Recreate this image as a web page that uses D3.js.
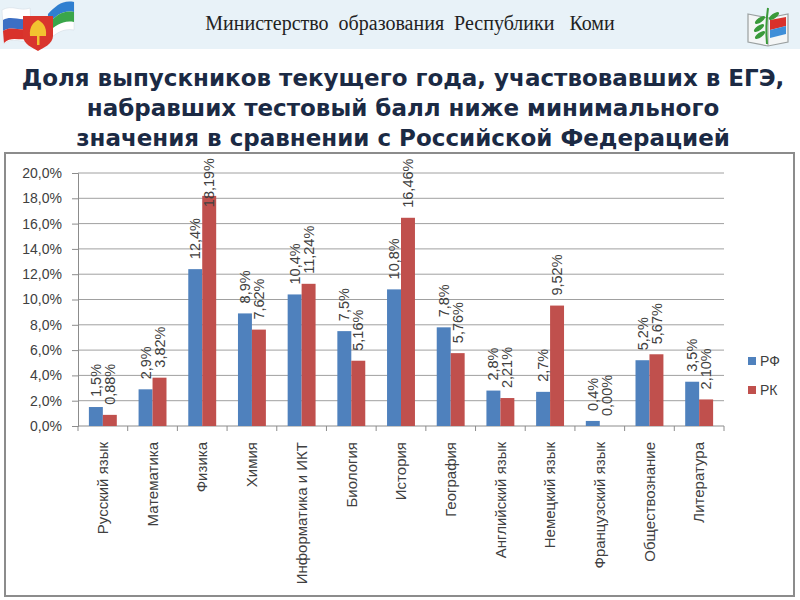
<!DOCTYPE html>
<html>
<head>
<meta charset="utf-8">
<script src="https://cdn.jsdelivr.net/npm/d3@7"></script>
<style>
body { margin: 0; background: #fff; }
svg { display: block; }
</style>
</head>
<body>
<script>
// data
var subjects = ["Русский язык", "Математика", "Физика", "Химия", "Информатика и ИКТ",
	"Биология", "История", "География", "Английский язык", "Немецкий язык",
	"Французский язык", "Обществознание", "Литература"];
var rfValues = [1.5, 2.9, 12.4, 8.9, 10.4, 7.5, 10.8, 7.8, 2.8, 2.7, 0.4, 5.2, 3.5];
var rkValues = [0.88, 3.82, 18.19, 7.62, 11.24, 5.16, 16.46, 5.76, 2.21, 9.52, 0.00, 5.67, 2.10];
var seriesNames = ["РФ", "РК"];
var seriesColors = ["#4f81bd", "#c0504d"];
var yTicks = [0, 2, 4, 6, 8, 10, 12, 14, 16, 18, 20];
var headerText = "Министерство  образования  Республики   Коми";
var titleLines = ["Доля выпускников текущего года, участвовавших в ЕГЭ,",
	"набравших тестовый балл ниже минимального",
	"значения в сравнении с Российской Федерацией"];

var width = 800,
	height = 600;

var ru = d3.formatLocale({decimal: ",", thousands: " ", grouping: [3], currency: ["", ""]});
var fmt1 = ru.format(".1f"),
	fmt2 = ru.format(".2f");

var svg = d3.select("body").append("svg")
		.attr("width", width)
		.attr("height", height);

// header band
svg.append("rect")
		.attr("x", 0).attr("y", 0)
		.attr("width", width).attr("height", 49)
		.attr("fill", "#e8f2f8");

svg.append("text")
		.attr("x", 410).attr("y", 30)
		.attr("text-anchor", "middle")
		.attr("font-family", "'Liberation Serif', 'DejaVu Serif', serif")
		.attr("font-size", 20)
		.attr("fill", "#222")
		.style("white-space", "pre")
		.text(headerText);

// left emblem: ribbons + shield
var logo = svg.append("g");
logo.append("path").attr("d", "M2,10 C12,4 20,12 30,8 L32,40 C22,44 12,36 4,44 Z").attr("fill", "#fff").attr("stroke", "#d0d8e0").attr("stroke-width", 0.5);
logo.append("path").attr("d", "M3,20 C12,15 20,22 31,18 L31,28 C20,32 12,25 3,31 Z").attr("fill", "#3c6fc4");
logo.append("path").attr("d", "M3,31 C12,25 20,32 31,28 L32,38 C20,42 12,35 4,43 Z").attr("fill", "#d9312b");
logo.append("path").attr("d", "M48,14 C56,6 62,0 74,2 L74,30 C62,28 56,34 48,40 Z").attr("fill", "#fff").attr("stroke", "#d0d8e0").attr("stroke-width", 0.5);
logo.append("path").attr("d", "M48,14 C56,6 62,0 74,2 L74,12 C62,10 56,16 48,24 Z").attr("fill", "#2f7fd0");
logo.append("path").attr("d", "M48,24 C56,16 62,10 74,12 L74,22 C62,20 56,26 48,32 Z").attr("fill", "#3aa64a");
logo.append("path").attr("d", "M23,16 L53,16 L53,36 C53,44 43,48 38,51 C33,48 23,44 23,36 Z").attr("fill", "#d9352d");
logo.append("path").attr("d", "M30,36 C29,26 34,22 38,20 C42,22 47,26 46,36 Z").attr("fill", "#f2c230");
logo.append("rect").attr("x", 37).attr("y", 36).attr("width", 2.5).attr("height", 9).attr("fill", "#f2c230");

// right emblem: open book with sprout
var book = svg.append("g");
book.append("path").attr("d", "M748,14 L768,18 L788,14 L788,42 L768,46 L748,42 Z").attr("fill", "#f4f6f6").attr("stroke", "#9aa0a0").attr("stroke-width", 1.2);
book.append("path").attr("d", "M768,18 L768,46").attr("stroke", "#9aa0a0").attr("stroke-width", 1);
book.append("path").attr("d", "M770,20 L786,17 L786,26 L770,30 Z").attr("fill", "#d9312b");
book.append("path").attr("d", "M770,30 L786,26 L786,34 L770,38 Z").attr("fill", "#3f8fd8");
book.append("path").attr("d", "M767,44 C766,34 766,22 768,8").attr("stroke", "#3a9a3a").attr("stroke-width", 2).attr("fill", "none");
[[760, 20], [759, 28], [760, 35], [774, 16]].forEach(function(p){
	book.append("ellipse").attr("cx", p[0]).attr("cy", p[1]).attr("rx", 6).attr("ry", 2.3)
		.attr("transform", "rotate(-35," + p[0] + "," + p[1] + ")").attr("fill", "#3a9a3a");
});

// title
svg.append("g").selectAll("text")
		.data(titleLines)
	.enter().append("text")
		.attr("x", 403)
		.attr("y", function(d, i){ return 86 + i * 30; })
		.attr("text-anchor", "middle")
		.attr("font-family", "'DejaVu Sans', Verdana, sans-serif")
		.attr("font-weight", "bold")
		.attr("font-size", 23)
		.attr("fill", "#1b2a44")
		.text(function(d){ return d; });

// chart frame
svg.append("rect")
		.attr("x", 5).attr("y", 153)
		.attr("width", 789).attr("height", 443)
		.attr("fill", "#fff")
		.attr("stroke", "#8c8c8c")
		.attr("stroke-width", 2);

var margin = {left: 78, right: 724, top: 173, bottom: 426};
var font = "'Liberation Sans', Arial, sans-serif";
var textColor = "#404040";

var x0 = d3.scaleBand()
		.domain(subjects)
		.range([margin.left, margin.right]);
var x1 = d3.scaleBand()
		.domain(seriesNames)
		.range([0, x0.bandwidth()])
		.paddingOuter(0.78);
var y = d3.scaleLinear()
		.domain([0, 20])
		.range([margin.bottom, margin.top]);

// grid
svg.append("g").selectAll("line")
		.data(yTicks.slice(1))
	.enter().append("line")
		.attr("x1", margin.left).attr("x2", margin.right)
		.attr("y1", function(d){ return y(d); })
		.attr("y2", function(d){ return y(d); })
		.attr("stroke", "#a0a0a0")
		.attr("stroke-width", 1);

// y axis
var yAxis = svg.append("g")
		.attr("transform", "translate(" + margin.left + ",0)")
		.call(d3.axisLeft(y).tickValues(yTicks).tickSize(6).tickPadding(10)
			.tickFormat(function(d){ return fmt1(d) + "%"; }));
yAxis.select(".domain").attr("stroke", "#8c8c8c");
yAxis.selectAll(".tick line").attr("stroke", "#8c8c8c");
yAxis.selectAll("text")
		.attr("font-family", font)
		.attr("font-size", 14)
		.attr("fill", textColor);

// x axis line and ticks at category boundaries
svg.append("line")
		.attr("x1", margin.left).attr("x2", margin.right)
		.attr("y1", margin.bottom).attr("y2", margin.bottom)
		.attr("stroke", "#8c8c8c");
var bounds = subjects.map(function(s){ return x0(s); }).concat([margin.right]);
svg.append("g").selectAll("line")
		.data(bounds)
	.enter().append("line")
		.attr("x1", function(d){ return d; }).attr("x2", function(d){ return d; })
		.attr("y1", margin.bottom).attr("y2", margin.bottom + 5)
		.attr("stroke", "#8c8c8c");

// category labels
svg.append("g").selectAll("text")
		.data(subjects)
	.enter().append("text")
		.attr("transform", function(d){
			return "translate(" + (x0(d) + x0.bandwidth() / 2) + "," + (margin.bottom + 16) + ") rotate(-90)";
		})
		.attr("text-anchor", "end")
		.attr("dy", "0.35em")
		.attr("font-family", font)
		.attr("font-size", 15)
		.attr("fill", textColor)
		.text(function(d){ return d; });

// bars
var rows = subjects.map(function(s, i){
	return {subject: s, vals: [
		{key: seriesNames[0], v: rfValues[i], label: fmt1(rfValues[i]) + "%"},
		{key: seriesNames[1], v: rkValues[i], label: fmt2(rkValues[i]) + "%"}
	]};
});

var groups = svg.append("g").selectAll("g")
		.data(rows)
	.enter().append("g")
		.attr("transform", function(d){ return "translate(" + x0(d.subject) + ",0)"; });

groups.selectAll("rect")
		.data(function(d){ return d.vals; })
	.enter().append("rect")
		.attr("x", function(d){ return x1(d.key); })
		.attr("width", x1.bandwidth())
		.attr("y", function(d){ return y(d.v); })
		.attr("height", function(d){ return margin.bottom - y(d.v); })
		.attr("fill", function(d, i){ return seriesColors[i]; });

// data labels, rotated, kept inside the chart frame
groups.selectAll("text")
		.data(function(d){ return d.vals; })
	.enter().append("text")
		.attr("text-anchor", "start")
		.attr("dy", "0.35em")
		.attr("font-family", font)
		.attr("font-size", 14.5)
		.attr("fill", textColor)
		.text(function(d){ return d.label; })
		.each(function(d){
			var len = this.getComputedTextLength();
			var bottom = y(d.v) - 10;
			if (bottom - len < 158) bottom = 158 + len;
			d3.select(this).attr("transform",
				"translate(" + (x1(d.key) + x1.bandwidth() / 2) + "," + bottom + ") rotate(-90)");
		});

// legend
var legend = svg.append("g").selectAll("g")
		.data(seriesNames)
	.enter().append("g")
		.attr("transform", function(d, i){ return "translate(748," + (361 + i * 29) + ")"; });
legend.append("rect")
		.attr("x", 0).attr("y", -4)
		.attr("width", 8).attr("height", 8)
		.attr("fill", function(d, i){ return seriesColors[i]; });
legend.append("text")
		.attr("x", 12)
		.attr("dy", "0.35em")
		.attr("font-family", font)
		.attr("font-size", 14)
		.attr("fill", textColor)
		.text(function(d){ return d; });
</script>
</body>
</html>
